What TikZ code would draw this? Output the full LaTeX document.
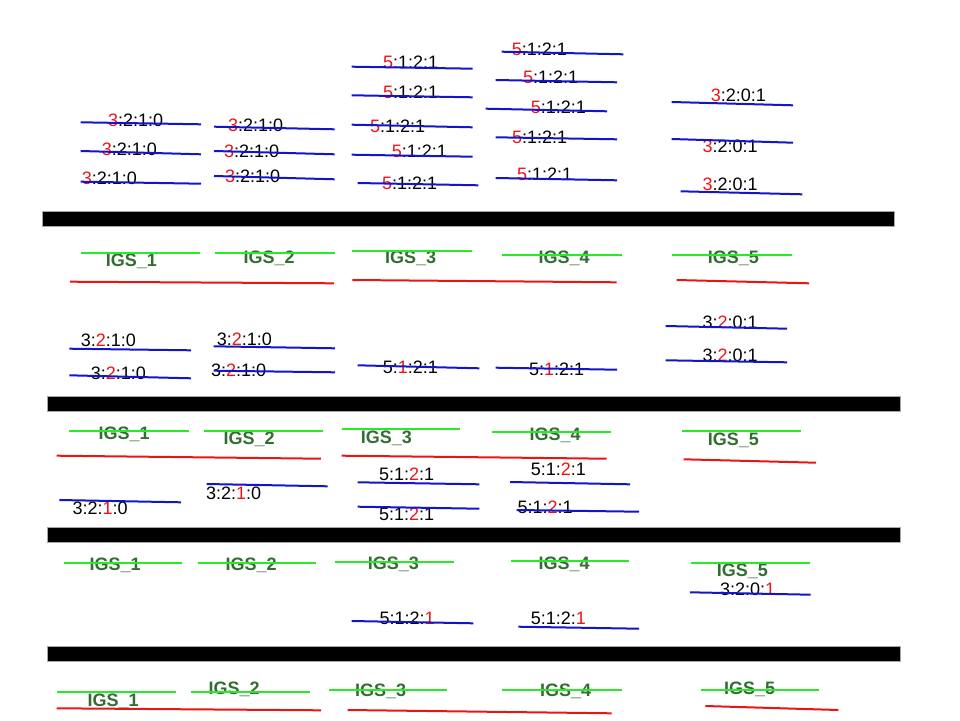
\documentclass[tikz,border=0pt]{standalone}
\usepackage{fontspec}
\setmainfont{Liberation Sans}
\definecolor{segblue}{RGB}{20,20,200}
\definecolor{segred}{RGB}{235,20,20}
\definecolor{seggreen}{RGB}{40,235,40}
\definecolor{igsgreen}{RGB}{50,110,50}
\newcommand{\rd}[1]{\textcolor{segred}{#1}}
\begin{document}
\begin{tikzpicture}[x=1pt,y=-1pt,line join=bevel,
  lbl/.style={anchor=base west,inner sep=0pt,font=\fontsize{18}{20}\selectfont},
  igs/.style={lbl,text=igsgreen,font=\fontsize{18}{20}\selectfont\bfseries},
  blueseg/.style={draw=segblue,line width=2pt},
  greenseg/.style={draw=seggreen,line width=2pt},
  redseg/.style={draw=segred,line width=2pt},
  bar/.style={fill=black,draw=gray!70,line width=0.8pt}]
\useasboundingbox (0,0) rectangle (960,720);
%%
\node (a11) at (108,126.5) [lbl] {\rd{3}:2:1:0};
  \node (a12) at (101.7,155.5) [lbl] {\rd{3}:2:1:0};
  \node (a13) at (81.7,184.5) [lbl] {\rd{3}:2:1:0};
  \node (a21) at (228,131.5) [lbl] {\rd{3}:2:1:0};
  \node (a22) at (224,157) [lbl] {\rd{3}:2:1:0};
  \node (a23) at (225,182) [lbl] {\rd{3}:2:1:0};
  \node (a31) at (383,68) [lbl] {\rd{5}:1:2:1};
  \node (a32) at (383,98) [lbl] {\rd{5}:1:2:1};
  \node (a33) at (370,132.5) [lbl] {\rd{5}:1:2:1};
  \node (a34) at (391.7,157) [lbl] {\rd{5}:1:2:1};
  \node (a35) at (382,189) [lbl] {\rd{5}:1:2:1};
  \node (a41) at (511.7,55) [lbl] {\rd{5}:1:2:1};
  \node (a42) at (523,83) [lbl] {\rd{5}:1:2:1};
  \node (a43) at (530.7,113) [lbl] {\rd{5}:1:2:1};
  \node (a44) at (512,143) [lbl] {\rd{5}:1:2:1};
  \node (a45) at (517,180.5) [lbl] {\rd{5}:1:2:1};
  \node (a51) at (710.7,101) [lbl] {\rd{3}:2:0:1};
  \node (a52) at (702.3,152.5) [lbl] {\rd{3}:2:0:1};
  \node (a53) at (702.3,190.5) [lbl] {\rd{3}:2:0:1};
%
  \node (igs_a1) at (105.7,266.5) [igs] {IGS\_1};
  \node (igs_a2) at (243.3,263.5) [igs] {IGS\_2};
  \node (igs_a3) at (385,263) [igs] {IGS\_3};
  \node (igs_a4) at (538.3,263) [igs] {IGS\_4};
  \node (igs_a5) at (707.7,263) [igs] {IGS\_5};
%
  \node (b11) at (80.7,346.5) [lbl] {3:\rd{2}:1:0};
  \node (b12) at (90.7,379) [lbl] {3:\rd{2}:1:0};
  \node (b21) at (216.7,345) [lbl] {3:\rd{2}:1:0};
  \node (b22) at (211,376) [lbl] {3:\rd{2}:1:0};
  \node (b31) at (382.7,373) [lbl] {5:\rd{1}:2:1};
  \node (b41) at (529,375) [lbl] {5:\rd{1}:2:1};
  \node (b51) at (702.3,328) [lbl] {3:\rd{2}:0:1};
  \node (b52) at (702.3,361.5) [lbl] {3:\rd{2}:0:1};
%
  \node (igs_b1) at (98.3,439) [igs] {IGS\_1};
  \node (igs_b2) at (223.3,444) [igs] {IGS\_2};
  \node (igs_b3) at (360.7,443) [igs] {IGS\_3};
  \node (igs_b4) at (529.3,440.5) [igs] {IGS\_4};
  \node (igs_b5) at (707.7,445) [igs] {IGS\_5};
%
  \node (c11) at (72.3,514) [lbl] {3:2:\rd{1}:0};
  \node (c21) at (206,499) [lbl] {3:2:\rd{1}:0};
  \node (c31) at (379,480) [lbl] {5:1:\rd{2}:1};
  \node (c32) at (379,520) [lbl] {5:1:\rd{2}:1};
  \node (c41) at (530.7,475) [lbl] {5:1:\rd{2}:1};
  \node (c42) at (517.3,513) [lbl] {5:1:\rd{2}:1};
%
  \node (igs_c1) at (89.3,570) [igs] {IGS\_1};
  \node (igs_c2) at (225.3,570) [igs] {IGS\_2};
  \node (igs_c3) at (367.7,569) [igs] {IGS\_3};
  \node (igs_c4) at (538.3,569) [igs] {IGS\_4};
  \node (igs_c5) at (716.7,576.5) [igs] {IGS\_5};
  \node (d31) at (379.3,624) [lbl] {5:1:2:\rd{1}};
  \node (d41) at (530.7,624) [lbl] {5:1:2:\rd{1}};
  \node (d51) at (720,595) [lbl] {3:2:0:\rd{1}};
%
  \node (igs_d1) at (87.3,706.5) [igs] {IGS\_1};
  \node (igs_d2) at (208.3,694) [igs] {IGS\_2};
  \node (igs_d3) at (355,696.5) [igs] {IGS\_3};
  \node (igs_d4) at (540,696.5) [igs] {IGS\_4};
  \node (igs_d5) at (724,694) [igs] {IGS\_5};
%%
  \draw [bar] (42,211) rectangle (894,226);
  \draw [bar] (47,396) rectangle (900,411);
  \draw [bar] (47,527) rectangle (900,542);
  \draw [bar] (47,646) rectangle (900,661);
%
  \draw [blueseg] (80.7,122.3) -- (201,124.3);
  \draw [blueseg] (80.7,151) -- (201,154.3);
  \draw [blueseg] (80.7,181.7) -- (201,183.7);
  \draw [blueseg] (214,126.7) -- (334.7,129.3);
  \draw [blueseg] (214,151) -- (334.7,154.3);
  \draw [blueseg] (214,176) -- (334.7,179.3);
  \draw [blueseg] (351.7,66.7) -- (472.7,68.7);
  \draw [blueseg] (351.7,95.3) -- (472.7,97.3);
  \draw [blueseg] (351.7,124.7) -- (472.7,127.3);
  \draw [blueseg] (351.7,154.7) -- (472.7,156.7);
  \draw [blueseg] (357.7,183) -- (478.3,185.3);
  \draw [blueseg] (501.7,51.7) -- (623.3,54.3);
  \draw [blueseg] (495.7,80) -- (617,82.3);
  \draw [blueseg] (485.7,108.7) -- (607,111.3);
  \draw [blueseg] (495.7,137.3) -- (617,139.3);
  \draw [blueseg] (495.7,178) -- (617,180.3);
  \draw [blueseg] (671.7,102) -- (793,105.3);
  \draw [blueseg] (671.7,139) -- (793,142.7);
  \draw [blueseg] (680.7,191.3) -- (802.3,194.3);
%
  \draw [greenseg] (81,253.3) -- (200.3,253.3);
  \draw [greenseg] (215,253.3) -- (334.7,253.3);
  \draw [greenseg] (352.3,251) -- (472.3,251);
  \draw [greenseg] (502.3,255.3) -- (622.3,255.3);
  \draw [greenseg] (672.3,255.3) -- (792.3,255.3);
  \draw [redseg] (70,281.7) -- (334,283.3);
  \draw [redseg] (352.3,280) -- (616.7,282.3);
  \draw [redseg] (676.7,280) -- (809,283.3);
%
  \draw [blueseg] (69.3,348.7) -- (191,350.3);
  \draw [blueseg] (69.3,375.3) -- (191,378.3);
  \draw [blueseg] (213.7,346.3) -- (335,348.3);
  \draw [blueseg] (213.7,370.7) -- (335,372.3);
  \draw [blueseg] (357.7,365.3) -- (479.3,368.3);
  \draw [blueseg] (495.7,367.7) -- (617,369.7);
  \draw [blueseg] (665.7,326) -- (787,328.7);
  \draw [blueseg] (665.7,360.3) -- (787,362.3);
%
  \draw [greenseg] (69.3,431) -- (189,431);
  \draw [greenseg] (203.7,431) -- (323.3,431);
  \draw [greenseg] (341.7,429) -- (460,429);
  \draw [greenseg] (491.7,432.3) -- (611,432.3);
  \draw [greenseg] (681.7,431) -- (801,431);
  \draw [redseg] (56.7,455.7) -- (321,458.7);
  \draw [redseg] (341.7,455.7) -- (606.7,458.7);
  \draw [redseg] (683.7,459.3) -- (816,462.7);
  \draw [blueseg] (59.3,500) -- (181,502.3);
  \draw [blueseg] (206.7,484) -- (327.7,486.3);
  \draw [blueseg] (357.7,482.3) -- (479.3,484.3);
  \draw [blueseg] (357.7,506.7) -- (479.3,508.7);
  \draw [blueseg] (510,482) -- (630,484.3);
  \draw [blueseg] (516.7,510) -- (639,511.7);
%
  \draw [greenseg] (64,563.3) -- (182.3,563.3);
  \draw [greenseg] (197.7,563.3) -- (316.3,563.3);
  \draw [greenseg] (335,561.7) -- (454,561.7);
  \draw [greenseg] (510.7,560.7) -- (629,560.7);
  \draw [greenseg] (690.7,563.3) -- (810,563.3);
  \draw [blueseg] (351.7,621) -- (473.3,623.3);
  \draw [blueseg] (518.3,626.7) -- (639,628.7);
  \draw [blueseg] (690,592.3) -- (810.7,594.7);
%
  \draw [greenseg] (56.7,692.3) -- (175.7,692.3);
  \draw [greenseg] (191,692.3) -- (310,692.3);
  \draw [greenseg] (328.7,690) -- (447.3,690);
  \draw [greenseg] (502.3,690) -- (622.3,690);
  \draw [greenseg] (700.7,690) -- (819,690);
  \draw [redseg] (56.7,708.3) -- (321,710.3);
  \draw [redseg] (347.7,710) -- (611.7,713.3);
  \draw [redseg] (705.3,706) -- (838.3,710);
%
\end{tikzpicture}
\end{document}
